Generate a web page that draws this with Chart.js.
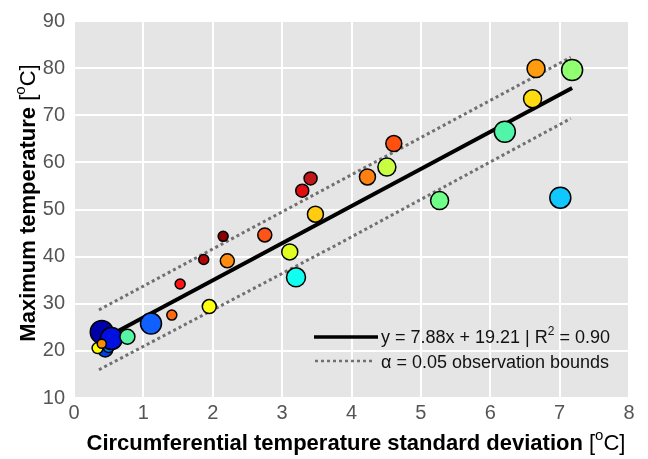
<!DOCTYPE html>
<html lang="en">
<head>
  <meta charset="UTF-8">
  <title>Max temperature vs circumferential std</title>
  <script src="https://cdn.jsdelivr.net/npm/chart.js"></script>
  <style>
    html, body { margin: 0; padding: 0; background: #ffffff; }
    #wrap { width: 648px; height: 459px; }
  </style>
</head>
<body>
  <div id="wrap"><canvas id="chart" width="648" height="459"></canvas></div>

  <script>
    // standard deviation [oC] and max temperature [oC] for each sensor
    const stdDev  = [0.45, 0.50, 0.34, 0.40, 0.54, 0.77, 0.40, 1.11, 1.41, 1.95,
                     1.53, 1.87, 2.15, 2.21, 2.75, 3.11, 3.20, 3.29, 3.41, 3.48,
                     4.23, 4.51, 4.61, 5.27, 6.21, 6.61, 6.66, 7.18, 7.01];
    const maxTemp = [20.3, 20.8, 20.6, 24.0, 22.6, 23.0, 21.5, 25.8, 27.6, 29.4,
                     34.2, 39.4, 44.3, 39.1, 44.6, 41.0, 35.6, 54.0, 56.6, 49.0,
                     56.9, 59.0, 64.0, 51.9, 66.5, 73.5, 79.9, 79.6, 52.5];
    // marker colour (jet colormap) and marker radius
    const markerColor = ['#0040e0', '#0080ff', '#ffff00', '#0000a8', '#0010e0', '#55f5a5', '#ff8c00', '#1060ff', '#ff6a10', '#ffff10',
                         '#ff1414', '#b00808', '#8a0000', '#ff8c10', '#ff5418', '#e0ff20', '#10fff0', '#e01010', '#c01818', '#ffcc10',
                         '#ff8010', '#c8ff40', '#ff5010', '#70ff88', '#50f5a8', '#ffdc10', '#ff9c10', '#90ff70', '#10c8ff'];
    const markerSize  = [7.5, 5.5, 5.5, 11.5, 11, 7.5, 4.5, 10.5, 5, 7,
                         5, 5, 5, 7, 7, 8, 9.5, 6.5, 6.5, 8,
                         8, 9, 8, 9, 10.5, 9, 9, 10.5, 10.5];

    // fit line and 95% observation bounds, read at their ends
    const fitX   = [0.38, 7.18];
    const fitY   = [22.2, 75.8];
    const upperX = [0.36, 3.8, 7.16];
    const upperY = [28.7, 55.8, 82.3];
    const lowerX = [0.36, 3.8, 7.16];
    const lowerY = [16.0, 42.6, 69.3];

    const xTicks = [0, 1, 2, 3, 4, 5, 6, 7, 8];
    const yTicks = [10, 20, 30, 40, 50, 60, 70, 80, 90];

    const FONT = '"Liberation Sans", Arial, Helvetica, sans-serif';
    const toPts = (xs, ys) => xs.map((x, i) => ({ x: x, y: ys[i] }));

    // grey panel behind the grid
    const panelBg = {
      id: 'panelBg',
      beforeDraw(chart) {
        const { ctx, chartArea: a } = chart;
        ctx.save();
        ctx.fillStyle = '#e5e5e5';
        ctx.fillRect(a.left, a.top, a.right - a.left, a.bottom - a.top);
        ctx.restore();
      }
    };

    // draws text pieces one after another: [text, font, dy]
    function drawRuns(ctx, x, y, runs) {
      let cx = x;
      runs.forEach(r => {
        ctx.font = r[1];
        ctx.fillText(r[0], cx, y + (r[2] || 0));
        cx += ctx.measureText(r[0]).width;
      });
      return cx;
    }
    function runsWidth(ctx, runs) {
      let w = 0;
      runs.forEach(r => { ctx.font = r[1]; w += ctx.measureText(r[0]).width; });
      return w;
    }

    const titlesAndLegend = {
      id: 'titlesAndLegend',
      afterDraw(chart) {
        const ctx = chart.ctx;
        ctx.save();
        ctx.fillStyle = '#000';
        ctx.textBaseline = 'alphabetic';
        ctx.textAlign = 'left';

        const bold = 'bold 22px ' + FONT;
        const reg = '22px ' + FONT;
        const sup = '15px ' + FONT;

        // x title
        const xRuns = [['Circumferential temperature standard deviation ', bold], ['[', reg], ['o', sup, -10], ['C]', reg]];
        const xw = runsWidth(ctx, xRuns);
        drawRuns(ctx, 356 - xw / 2, 450, xRuns);

        // y title
        const yRuns = [['Maximum temperature ', bold], ['[', reg], ['o', sup, -10], ['C]', reg]];
        const yw = runsWidth(ctx, yRuns);
        ctx.save();
        ctx.translate(35, 203);
        ctx.rotate(-Math.PI / 2);
        drawRuns(ctx, -yw / 2, 0, yRuns);
        ctx.restore();

        // legend
        ctx.lineCap = 'butt';
        ctx.strokeStyle = '#000';
        ctx.lineWidth = 3.5;
        ctx.beginPath();
        ctx.moveTo(314, 337);
        ctx.lineTo(378, 337);
        ctx.stroke();

        ctx.strokeStyle = '#707070';
        ctx.lineWidth = 2.5;
        ctx.setLineDash([3, 3]);
        ctx.beginPath();
        ctx.moveTo(315, 361);
        ctx.lineTo(374, 361);
        ctx.stroke();
        ctx.setLineDash([]);

        const lf = '18px ' + FONT;
        const ls = '12px ' + FONT;
        ctx.fillStyle = '#111';
        drawRuns(ctx, 381, 343, [['y = 7.88x + 19.21 | R', lf], ['2', ls, -8], [' = 0.90', lf]]);
        drawRuns(ctx, 381, 368, [['\u03b1 = 0.05 observation bounds', lf]]);
        ctx.restore();
      }
    };

    new Chart(document.getElementById('chart'), {
      type: 'scatter',
      data: {
        datasets: [
          {
            label: 'data',
            data: toPts(stdDev, maxTemp),
            backgroundColor: markerColor,
            borderColor: '#000',
            borderWidth: 1.5,
            pointRadius: markerSize,
            pointHoverRadius: markerSize,
            order: 0
          },
          {
            label: 'fit',
            type: 'line',
            data: toPts(fitX, fitY),
            borderColor: '#000',
            borderWidth: 4,
            pointRadius: 0,
            fill: false,
            order: 1
          },
          {
            label: 'upper',
            type: 'line',
            data: toPts(upperX, upperY),
            borderColor: '#707070',
            borderWidth: 3,
            borderDash: [3, 3],
            pointRadius: 0,
            fill: false,
            order: 2
          },
          {
            label: 'lower',
            type: 'line',
            data: toPts(lowerX, lowerY),
            borderColor: '#707070',
            borderWidth: 3,
            borderDash: [3, 3],
            pointRadius: 0,
            fill: false,
            order: 3
          }
        ]
      },
      options: {
        responsive: false,
        animation: false,
        layout: { padding: { left: 0, top: 14, right: 19, bottom: 0 } },
        plugins: {
          legend: { display: false },
          tooltip: { enabled: false }
        },
        scales: {
          x: {
            type: 'linear',
            min: 0, max: 8,
            afterBuildTicks: s => { s.ticks = xTicks.map(v => ({ value: v })); },
            afterFit: s => { s.height = 61; },
            grid: { color: '#ffffff', lineWidth: 2, drawTicks: false },
            border: { display: false },
            ticks: { color: '#555', padding: 3, font: { family: FONT, size: 20 } }
          },
          y: {
            type: 'linear',
            min: 10, max: 90,
            afterBuildTicks: s => { s.ticks = yTicks.map(v => ({ value: v })); },
            afterFit: s => { s.width = 74; },
            grid: { color: '#ffffff', lineWidth: 2, drawTicks: false },
            border: { display: false },
            ticks: { color: '#555', padding: 9, font: { family: FONT, size: 20 } }
          }
        }
      },
      plugins: [panelBg, titlesAndLegend]
    });
  </script>
</body>
</html>
